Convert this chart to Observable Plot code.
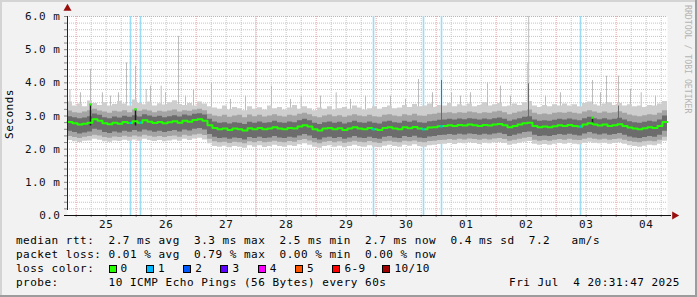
<!DOCTYPE html>
<html><head><meta charset="utf-8">
<script src="https://cdn.jsdelivr.net/npm/d3@7"></script>
<script src="https://cdn.jsdelivr.net/npm/@observablehq/plot@0.6"></script>
<style>
html,body{margin:0;padding:0;background:#f2f2f2;}
#wrap{position:relative;width:697px;height:297px;overflow:hidden;background:#f2f2f2;box-shadow:inset -2px -2px 0 #9c9c9c, inset 2px 2px 0 #d4d4d4;}
#chart{position:absolute;left:0;top:0;}
.mono{font-family:"DejaVu Sans Mono",monospace;font-size:11px;letter-spacing:0.5px;color:#000;white-space:pre;line-height:14px;}
#ylabel{position:absolute;left:0;top:0;transform:translate(10px,114px) translate(-50%,-50%) rotate(-90deg);}
#credit{position:absolute;left:683px;top:5px;writing-mode:vertical-rl;font-family:"DejaVu Sans Mono",monospace;font-size:8.2px;color:#b4b4b4;white-space:pre;line-height:10px;}
.line{position:absolute;left:16px;}
#date{position:absolute;right:17px;top:276px;}
.sq{display:inline-block;width:6px;height:6px;border:1px solid #000;vertical-align:-1px;margin-right:4px;}
.item{display:inline-block;}
</style></head><body>
<div id="wrap">
<div id="chart"></div>
<div id="ylabel" class="mono">Seconds</div>
<div id="credit">RRDTOOL / TOBI OETIKER</div>
<div id="l1" class="line mono" style="top:234px"></div>
<div id="l2" class="line mono" style="top:248px"></div>
<div id="l3" class="line mono" style="top:262px"></div>
<div id="l4" class="line mono" style="top:276px"></div>
<div id="date" class="mono"></div>
</div>
<script>
// ---------- data ----------
const windowStart = "2025-06-24T20:31:47Z";
const windowEnd = "2025-07-04T20:31:47Z";
const stepHours = 2;

// median rtt (ms) per 2-hour step
const median = [
2.82,2.78,2.74,2.77,2.80,2.90,2.86,2.78,2.75,2.80,
2.77,2.82,2.79,2.84,2.80,2.87,2.83,2.79,2.82,2.78,
2.81,2.84,2.80,2.86,2.83,2.88,2.90,2.86,2.72,2.64,
2.60,2.62,2.58,2.62,2.60,2.56,2.63,2.60,2.64,2.60,
2.62,2.66,2.62,2.60,2.64,2.62,2.68,2.72,2.68,2.60,
2.56,2.62,2.64,2.60,2.63,2.58,2.62,2.66,2.62,2.60,
2.64,2.60,2.58,2.64,2.66,2.62,2.60,2.66,2.63,2.67,
2.62,2.60,2.65,2.66,2.69,2.70,2.72,2.70,2.73,2.71,
2.74,2.72,2.70,2.73,2.71,2.74,2.76,2.72,2.66,2.70,
2.74,2.78,2.80,2.70,2.66,2.68,2.66,2.69,2.72,2.70,
2.73,2.70,2.68,2.74,2.78,2.74,2.71,2.74,2.70,2.72,
2.75,2.70,2.65,2.62,2.60,2.63,2.66,2.64,2.70,2.82];

// smoke: outermost band (max / min ping)
const smokeMax = [
3.42,3.30,3.36,3.28,3.45,3.38,3.32,3.40,3.30,3.35,
3.44,3.36,3.30,3.48,3.38,3.34,3.42,3.30,3.37,3.33,
3.40,3.46,3.35,3.32,3.38,3.30,3.42,3.36,3.28,3.24,
3.20,3.30,3.18,3.26,3.22,3.16,3.28,3.20,3.25,3.18,
3.30,3.22,3.26,3.18,3.24,3.32,3.20,3.28,3.22,3.16,
3.24,3.20,3.28,3.18,3.22,3.26,3.20,3.30,3.24,3.18,
3.22,3.28,3.20,3.26,3.30,3.22,3.24,3.32,3.26,3.35,
3.28,3.30,3.36,3.26,3.32,3.30,3.38,3.28,3.34,3.30,
3.36,3.28,3.32,3.40,3.30,3.34,3.38,3.28,3.30,3.36,
3.32,3.40,3.44,3.30,3.26,3.32,3.28,3.34,3.30,3.36,
3.30,3.34,3.28,3.38,3.42,3.34,3.30,3.36,3.40,3.32,
3.38,3.30,3.34,3.28,3.30,3.26,3.32,3.30,3.36,3.44];
const smokeMin = [
2.26,2.22,2.20,2.24,2.25,2.30,2.27,2.22,2.21,2.25,
2.23,2.27,2.24,2.28,2.24,2.30,2.26,2.23,2.26,2.22,
2.25,2.28,2.24,2.30,2.26,2.31,2.33,2.28,2.16,2.08,
2.06,2.09,2.04,2.08,2.06,2.03,2.10,2.06,2.10,2.05,
2.08,2.12,2.08,2.06,2.10,2.08,2.13,2.16,2.12,2.06,
2.03,2.08,2.10,2.06,2.09,2.04,2.08,2.12,2.08,2.06,
2.10,2.06,2.04,2.09,2.12,2.08,2.06,2.12,2.09,2.13,
2.08,2.06,2.10,2.12,2.14,2.15,2.17,2.14,2.18,2.16,
2.19,2.17,2.14,2.18,2.16,2.19,2.20,2.17,2.12,2.15,
2.18,2.21,2.23,2.15,2.12,2.14,2.12,2.15,2.17,2.15,
2.18,2.15,2.13,2.18,2.21,2.18,2.16,2.18,2.15,2.17,
2.19,2.15,2.10,2.08,2.06,2.09,2.12,2.10,2.15,2.24];

// smoke: middle band
const smokeHi2 = [
3.15,3.10,3.08,3.12,3.16,3.20,3.15,3.12,3.08,3.14,
3.12,3.16,3.10,3.18,3.14,3.18,3.15,3.10,3.14,3.12,
3.15,3.18,3.12,3.16,3.14,3.18,3.20,3.16,3.05,3.00,
2.98,3.02,2.96,3.00,3.02,2.95,3.03,2.98,3.02,2.97,
3.00,3.04,2.99,2.97,3.02,3.00,3.05,3.08,3.04,2.98,
2.95,3.00,3.03,2.98,3.01,2.96,3.00,3.04,3.00,2.98,
3.02,2.98,2.96,3.02,3.04,3.00,2.98,3.04,3.01,3.05,
3.00,2.99,3.04,3.05,3.08,3.08,3.10,3.07,3.10,3.08,
3.12,3.10,3.07,3.10,3.08,3.12,3.14,3.10,3.04,3.08,
3.12,3.15,3.18,3.08,3.04,3.06,3.04,3.08,3.10,3.08,
3.11,3.08,3.06,3.12,3.16,3.12,3.08,3.12,3.08,3.10,
3.13,3.08,3.03,3.00,2.98,3.01,3.04,3.02,3.08,3.16];
const smokeLo2 = [
2.38,2.35,2.32,2.36,2.38,2.42,2.40,2.35,2.33,2.37,
2.35,2.39,2.36,2.40,2.37,2.42,2.39,2.36,2.38,2.35,
2.38,2.40,2.36,2.42,2.39,2.43,2.45,2.41,2.30,2.22,
2.19,2.21,2.17,2.21,2.19,2.16,2.22,2.19,2.23,2.19,
2.21,2.24,2.21,2.19,2.23,2.21,2.26,2.29,2.25,2.19,
2.16,2.21,2.23,2.19,2.22,2.18,2.21,2.24,2.21,2.19,
2.23,2.19,2.17,2.22,2.24,2.21,2.19,2.24,2.22,2.25,
2.21,2.19,2.23,2.24,2.26,2.27,2.29,2.27,2.30,2.28,
2.31,2.29,2.27,2.30,2.28,2.31,2.32,2.29,2.24,2.27,
2.30,2.33,2.35,2.27,2.24,2.26,2.24,2.27,2.29,2.27,
2.30,2.27,2.26,2.30,2.33,2.30,2.28,2.30,2.27,2.29,
2.31,2.27,2.23,2.21,2.19,2.22,2.24,2.22,2.27,2.36];

// smoke: inner (dense) band
const smokeHi3 = [
2.98,2.95,2.92,2.94,2.98,3.06,3.02,2.95,2.92,2.97,
2.94,2.99,2.96,3.01,2.97,3.04,3.00,2.96,2.99,2.95,
2.98,3.01,2.97,3.03,3.00,3.05,3.07,3.03,2.90,2.82,
2.78,2.80,2.76,2.80,2.78,2.74,2.81,2.78,2.82,2.78,
2.80,2.84,2.80,2.78,2.82,2.80,2.86,2.90,2.86,2.78,
2.74,2.80,2.82,2.78,2.81,2.76,2.80,2.84,2.80,2.78,
2.82,2.78,2.76,2.82,2.84,2.80,2.78,2.84,2.81,2.85,
2.80,2.78,2.83,2.84,2.87,2.88,2.90,2.88,2.91,2.89,
2.92,2.90,2.88,2.91,2.89,2.92,2.94,2.90,2.84,2.88,
2.92,2.96,2.98,2.88,2.84,2.86,2.84,2.87,2.90,2.88,
2.91,2.88,2.86,2.92,2.96,2.92,2.89,2.92,2.88,2.90,
2.93,2.88,2.83,2.80,2.78,2.81,2.84,2.82,2.88,3.00];
const smokeLo3 = [
2.54,2.50,2.46,2.49,2.52,2.60,2.57,2.50,2.47,2.52,
2.49,2.54,2.51,2.56,2.52,2.58,2.55,2.51,2.54,2.50,
2.53,2.56,2.52,2.58,2.55,2.60,2.62,2.58,2.44,2.36,
2.32,2.34,2.30,2.34,2.32,2.28,2.35,2.32,2.36,2.32,
2.34,2.38,2.34,2.32,2.36,2.34,2.40,2.44,2.40,2.32,
2.28,2.34,2.36,2.32,2.35,2.30,2.34,2.38,2.34,2.32,
2.36,2.32,2.30,2.36,2.38,2.34,2.32,2.38,2.35,2.39,
2.34,2.32,2.37,2.38,2.41,2.42,2.44,2.42,2.45,2.43,
2.46,2.44,2.42,2.45,2.43,2.46,2.48,2.44,2.38,2.42,
2.46,2.50,2.52,2.42,2.38,2.40,2.38,2.41,2.44,2.42,
2.45,2.42,2.40,2.46,2.50,2.46,2.43,2.46,2.42,2.44,
2.47,2.42,2.37,2.34,2.32,2.35,2.38,2.36,2.42,2.54];

// isolated outliers (single-sample spikes)
const lightSpikeTimes = ["2025-06-24T21:30Z","2025-06-25T01:44Z","2025-06-25T05:44Z","2025-06-25T10:30Z","2025-06-25T13:44Z","2025-06-25T16:56Z","2025-06-25T20:08Z","2025-06-25T23:44Z","2025-06-26T04:00Z","2025-06-26T05:44Z","2025-06-26T10:00Z","2025-06-26T11:44Z","2025-06-26T16:56Z","2025-06-26T19:44Z","2025-06-26T22:56Z","2025-06-27T06:08Z","2025-06-27T13:44Z","2025-06-27T19:44Z","2025-06-28T06:08Z","2025-06-28T13:44Z","2025-06-28T18:00Z","2025-06-29T01:44Z","2025-06-29T08:00Z","2025-06-29T13:44Z","2025-06-29T19:44Z","2025-06-30T05:44Z","2025-06-30T11:44Z","2025-06-30T16:56Z","2025-06-30T22:32Z","2025-07-01T06:08Z","2025-07-01T09:44Z","2025-07-01T13:44Z","2025-07-01T20:32Z","2025-07-02T01:44Z","2025-07-02T05:44Z","2025-07-02T12:40Z","2025-07-02T13:00Z","2025-07-02T19:44Z","2025-07-03T01:44Z","2025-07-03T14:32Z","2025-07-03T17:44Z","2025-07-03T20:08Z","2025-07-04T00:56Z","2025-07-04T05:44Z","2025-07-04T10:00Z","2025-07-04T15:44Z"];
const lightSpikeTops = [3.8,3.7,4.4,3.7,3.6,3.7,4.6,4.5,3.8,3.9,3.9,3.7,5.4,3.6,3.8,4.0,3.5,3.6,3.9,3.5,3.6,3.6,3.7,3.5,3.6,3.6,3.5,4.1,3.7,3.7,3.6,3.7,4.0,3.9,3.6,4.6,6.0,3.6,3.7,4.07,3.7,4.2,4.2,3.8,3.7,3.6];
const darkSpikeTimes = ["2025-06-25T05:44Z","2025-06-25T23:44Z","2025-07-03T14:32Z"];
const darkSpikeTops = [3.35,3.2,2.95];
const graySpikeTimes = ["2025-07-01T02:08Z","2025-07-02T12:56Z","2025-07-04T00:56Z"];
const graySpikeTops = [4.07,3.97,3.3];

// packet loss events (1 of 10 lost)
const lossTimes = ["2025-06-25T21:44Z","2025-06-26T01:44Z","2025-06-29T22:56Z","2025-06-30T18:56Z","2025-07-01T02:08Z","2025-07-03T09:44Z"];
const faintLossTimes = ["2025-06-27T23:50Z"];

// axes
const yMajorTicks = [0,1,2,3,4,5,6];
const yTickLabels = ["0.0","1.0 m","2.0 m","3.0 m","4.0 m","5.0 m","6.0 m"];
const yMinorTicks = [0.2,0.4,0.6,0.8,1.2,1.4,1.6,1.8,2.2,2.4,2.6,2.8,3.2,3.4,3.6,3.8,4.2,4.4,4.6,4.8,5.2,5.4,5.6,5.8];
const dayTicks = ["2025-06-25T00:00Z","2025-06-26T00:00Z","2025-06-27T00:00Z","2025-06-28T00:00Z","2025-06-29T00:00Z","2025-06-30T00:00Z","2025-07-01T00:00Z","2025-07-02T00:00Z","2025-07-03T00:00Z","2025-07-04T00:00Z"];
const dayLabelTicks = ["2025-06-25T12:00Z","2025-06-26T12:00Z","2025-06-27T12:00Z","2025-06-28T12:00Z","2025-06-29T12:00Z","2025-06-30T12:00Z","2025-07-01T12:00Z","2025-07-02T12:00Z","2025-07-03T12:00Z","2025-07-04T12:00Z"];
const dayLabels = ["25","26","27","28","29","30","01","02","03","04"];

// legend
const lossLabels = ["0","1","2","3","4","5","6-9","10/10"];
const lossColors = ["#26ff00","#00b8ff","#0059ff","#5e00ff","#ff00ff","#ff5500","#ff0000","#a10000"];
const rttLine = "median rtt:  2.7 ms avg  3.3 ms max  2.5 ms min  2.7 ms now  0.4 ms sd  7.2   am/s";
const lossLine = "packet loss: 0.01 % avg  0.79 % max  0.00 % min  0.00 % now";
const probeLine = "probe:       10 ICMP Echo Pings (56 Bytes) every 60s";
const stampText = "Fri Jul  4 20:31:47 2025";

// ---------- build tables ----------
const t0 = new Date(windowStart), t1 = new Date(windowEnd);
const stepMs = stepHours * 3600e3;
const rows = median.map((m, i) => ({
  t: new Date(+t0 + i * stepMs), med: m,
  lo: smokeMin[i], hi: smokeMax[i], lo2: smokeLo2[i], hi2: smokeHi2[i], lo3: smokeLo3[i], hi3: smokeHi3[i]
}));
rows.push({...rows[rows.length - 1], t: new Date(+t0 + median.length * stepMs)});
const lightSpikes = lightSpikeTimes.map((s, i) => ({t: new Date(s), top: lightSpikeTops[i]}));
const darkSpikes = darkSpikeTimes.map((s, i) => ({t: new Date(s), top: darkSpikeTops[i]}));
const graySpikes = graySpikeTimes.map((s, i) => ({t: new Date(s), top: graySpikeTops[i]}));
const losses = lossTimes.map(s => {
  const t = new Date(s);
  const idx = Math.min(median.length - 1, Math.floor((t - t0) / stepMs));
  return {t, med: median[idx]};
});
const faint = faintLossTimes.map(s => ({t: new Date(s)}));
const majorX = dayTicks.map(s => new Date(s));
const labelX = dayLabelTicks.map(s => new Date(s));
const labelMap = new Map(labelX.map((d, i) => [+d, dayLabels[i]]));
const minorX = d3.utcHour.every(6).range(t0, t1).filter(d => d.getUTCHours() !== 0);
const yLabelMap = new Map(yMajorTicks.map((v, i) => [v, yTickLabels[i]]));

const chart = Plot.plot({
  width: 697, height: 232,
  marginTop: 16, marginBottom: 17, marginLeft: 67, marginRight: 30,
  style: "background:transparent;font-family:'DejaVu Sans Mono',monospace;font-size:11px;letter-spacing:0.5px;overflow:visible;",
  x: {type: "utc", domain: [t0, t1], label: null},
  y: {domain: [0, 6], label: null},
  marks: [
    Plot.frame({fill: "#ffffff", stroke: "none"}),
    Plot.gridY(yMinorTicks, {stroke: "#c4c4c4", strokeOpacity: 1, strokeDasharray: "1,1"}),
    Plot.gridX(minorX, {stroke: "#c4c4c4", strokeOpacity: 1, strokeDasharray: "1,1"}),
    Plot.gridY(yMajorTicks.filter(v => v > 0), {stroke: "#e4a4a4", strokeOpacity: 1, strokeDasharray: "1,1"}),
    Plot.gridX(majorX, {stroke: "#e4a4a4", strokeOpacity: 1, strokeDasharray: "1,1"}),
    Plot.ruleX(losses, {x: "t", y1: 0, y2: 6, stroke: "#9ddcf5", strokeWidth: 1.6}),
    Plot.ruleX(faint, {x: "t", y1: 0, y2: 6, stroke: "#b4cfe0", strokeWidth: 1, strokeOpacity: 0.6}),
    Plot.ruleX(lightSpikes, {x: "t", y1: 2.6, y2: "top", stroke: "#bdbdbd", strokeWidth: 1}),
    Plot.areaY(rows, {x: "t", y1: "lo", y2: "hi", curve: "step-after", fill: "#cecece"}),
    Plot.areaY(rows, {x: "t", y1: "lo2", y2: "hi2", curve: "step-after", fill: "#a4a4a4"}),
    Plot.areaY(rows, {x: "t", y1: "lo3", y2: "hi3", curve: "step-after", fill: "#6c6c6c"}),
    Plot.ruleX(graySpikes, {x: "t", y1: 2.7, y2: "top", stroke: "#6a6a6a", strokeWidth: 1}),
    Plot.ruleX(darkSpikes, {x: "t", y1: 2.7, y2: "top", stroke: "#1e1e1e", strokeWidth: 1.5}),
    Plot.line(rows, {x: "t", y: "med", curve: "step-after", stroke: "#22ff00", strokeWidth: 2}),
    Plot.dot(darkSpikes, {x: "t", y: "top", symbol: "square", r: 1.3, fill: "#22ff00", stroke: "none"}),
    Plot.dot(losses, {x: "t", y: "med", symbol: "square", r: 1.3, fill: "#00b8ff", stroke: "none"}),
    // tick marks
    Plot.axisY([...yMinorTicks, ...yMajorTicks], {tickSize: 3, tickFormat: () => "", label: null, stroke: "#888"}),
    Plot.axisX([...minorX, ...majorX], {tickSize: 2, tickFormat: () => "", label: null, stroke: "#888"}),
    // axis lines + arrows
    Plot.ruleX([t0], {y1: 0, y2: 6, insetTop: -5, stroke: "#222"}),
    Plot.ruleY([0], {x1: t0, x2: t1, insetLeft: -3, insetRight: -4, stroke: "#111"}),
    Plot.dot([{t: t0, v: 6}], {x: "t", y: "v", symbol: "triangle", r: 3, fill: "#9a0e0e", stroke: "none", dy: -8}),
    Plot.dot([{t: t1, v: 0}], {x: "t", y: "v", symbol: "triangle", r: 3, fill: "#9a0e0e", stroke: "none", dx: 7, rotate: 90}),
    // labels
    Plot.axisY(yMajorTicks, {tickSize: 0, tickPadding: 7, tickFormat: d => yLabelMap.get(d), label: null, fill: "#111"}),
    Plot.axisX(labelX, {tickSize: 0, tickPadding: 5, tickFormat: d => labelMap.get(+d), label: null, fill: "#111"})
  ]
});
document.getElementById("chart").appendChild(chart);

// legend text
document.getElementById("l1").textContent = rttLine;
document.getElementById("l2").textContent = lossLine;
document.getElementById("l4").textContent = probeLine;
document.getElementById("date").textContent = stampText;
const l3 = document.getElementById("l3");
l3.appendChild(document.createTextNode("loss color:  "));
lossLabels.forEach((lab, i) => {
  const item = document.createElement("span");
  item.className = "item";
  if (i < lossLabels.length - 1) item.style.width = (lab.length > 1 ? 50 : 37.3) + "px";
  const sq = document.createElement("span");
  sq.className = "sq";
  sq.style.background = lossColors[i];
  item.appendChild(sq);
  item.appendChild(document.createTextNode(lab));
  l3.appendChild(item);
});
</script>
</body></html>
